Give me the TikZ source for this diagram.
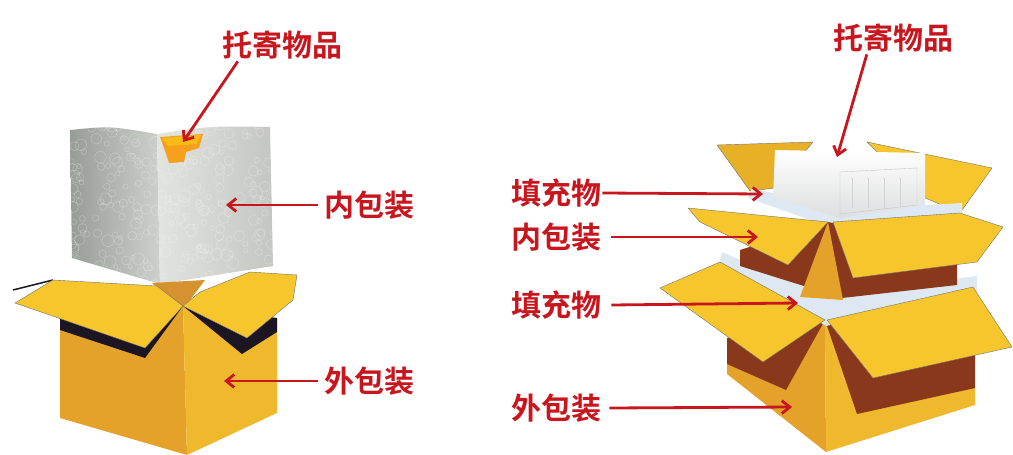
\documentclass[tikz,border=0pt]{standalone}
\usepackage{fontspec}
\newfontfamily\cjk{Noto Sans CJK SC Bold}
\usetikzlibrary{arrows.meta,positioning,calc}

\definecolor{labelred}{RGB}{200,22,30}
\definecolor{flapyellow}{RGB}{246,198,44}
\definecolor{flapshade}{RGB}{232,176,38}
\definecolor{faceleft}{RGB}{228,162,42}
\definecolor{faceright}{RGB}{240,184,44}
\definecolor{cardbrown}{RGB}{138,56,28}
\definecolor{innerdark}{RGB}{28,22,34}
\definecolor{neckbrown}{RGB}{214,146,46}
\definecolor{bubbledark}{RGB}{150,157,150}
\definecolor{bubblelight}{RGB}{226,228,223}
\definecolor{foam}{RGB}{238,239,240}
\definecolor{filler}{RGB}{222,232,242}
\definecolor{itemorange}{RGB}{246,160,30}

\tikzset{
  tag/.style={font=\cjk\fontsize{30}{30}\selectfont, text=labelred, inner sep=0pt},
  pointer/.style={draw=labelred, line width=2.8pt, -{Straight Barb[length=8pt,width=13pt]}},
  card/.style={draw=black!55, line width=0.4pt, line join=round},
}

\begin{document}
\begin{tikzpicture}[x=1pt,y=-1pt]
\useasboundingbox (0,0) rectangle (1013,455);

% ---- left: bubble wrapped item over open carton
\fill[faceleft] (60,316) -- (183,306) -- (187,455) -- (60,418) -- cycle;
\fill[faceright] (183,306) -- (277,318) -- (277,413) -- (187,455) -- cycle;
\fill[innerdark] (60,316) -- (183,306) -- (145,358) -- (60,330) -- cycle;
\fill[innerdark] (183,306) -- (277,318) -- (277,332) -- (242,354) -- cycle;
\draw[innerdark, line width=1.5pt] (13,290) -- (53,280);

% cube
\shade[left color=bubbledark, right color=bubblelight!80!gray] (70,130) .. controls (110,126) .. (157,134) -- (160,284) -- (72,258) -- cycle;
\shade[left color=bubblelight, right color=bubblelight!70!gray] (157,134) .. controls (210,126) .. (270,127) -- (273,266) -- (160,284) -- cycle;
\begin{scope}
  \clip (70,130) .. controls (110,126) .. (157,134) .. controls (210,126) .. (270,127) -- (273,266) -- (160,284) -- (72,258) -- cycle;
  \pgfmathsetseed{11}
  \foreach \i in {1,...,260}{
    \pgfmathsetmacro\bx{70+204*rnd}
    \pgfmathsetmacro\by{125+160*rnd}
    \pgfmathsetmacro\br{2+4*rnd}
    \draw[white, opacity=0.25, line width=0.6pt] (\bx,\by) circle[radius=\br];
  }
\end{scope}
\fill[itemorange] (160,137) -- (203,134) -- (199,148) -- (186,152) -- (184,162) -- (169,163) -- (164,148) -- cycle;
\fill[itemorange!70!yellow] (162,138) -- (201,135) -- (196,144) -- (168,146) -- cycle;

\fill[neckbrown] (152,283) -- (205,280) -- (190,300) -- (183,306) -- (160,290) -- cycle;
\fill[flapyellow, card] (15,303) -- (53,280) -- (157,286) -- (183,306) -- (145,348) -- cycle;
\fill[flapyellow, card] (183,306) -- (200,292) -- (250,272) -- (297,275) -- (293,300) -- (247,338) -- cycle;

% ---- right: carton in carton
\fill[faceleft] (727,338) -- (825,320) -- (826,452) -- (727,374) -- cycle;
\fill[faceright] (825,320) -- (975,300) -- (975,405) -- (826,452) -- cycle;
\fill[cardbrown] (727,338) -- (825,320) -- (786,390) -- (727,364) -- cycle;
\fill[cardbrown] (825,320) -- (975,300) -- (975,388) -- (857,414) -- cycle;
\fill[filler] (722,252) -- (815,292) -- (845,292) -- (977,276) -- (977,292) -- (826,326) -- (720,262) -- cycle;

\fill[flapshade, card] (717,145) -- (813,142) -- (775,188) -- (750,191) -- cycle;
\fill[flapyellow, card] (867,142) -- (992,168) -- (960,213) -- (923,197) -- cycle;
\fill[filler] (752,188) -- (840,210) -- (962,203) -- (962,216) -- (833,228) -- (748,198) -- cycle;
\shade[top color=white, bottom color=foam!85!gray] (775,150) -- (925,153) -- (925,205) -- (840,218) -- (773,197) -- cycle;
\draw[gray!45] (840,172) -- (917,168) -- (917,205) -- (840,214) -- cycle;
\foreach \k in {0,1,2,3}
  \draw[gray!35] (852+16*\k,178) -- (852+16*\k,208);

\fill[cardbrown] (740,250) -- (828,222) -- (957,250) -- (957,285) -- (842,298) -- (740,266) -- cycle;
\fill[faceleft] (828,222) -- (800,297) -- (843,300) -- cycle;
\fill[flapyellow, card] (688,208) -- (828,222) -- (788,265) -- (700,222) -- cycle;
\fill[flapyellow, card] (833,222) -- (960,213) -- (1003,227) -- (977,262) -- (853,278) -- cycle;

\fill[flapyellow, card] (660,288) -- (720,262) -- (825,320) -- (763,362) -- cycle;
\fill[flapyellow, card] (827,320) -- (973,287) -- (1012,347) -- (873,378) -- cycle;

% ---- labels
\node[tag] (itemL) at (282,45) {托寄物品};
\node[tag, anchor=west] (innerL) at (324,205) {内包装};
\node[tag, anchor=west] (outerL) at (324,381) {外包装};
\node[tag] (itemR) at (893,38) {托寄物品};
\node[tag, anchor=west] (fillA) at (511,193) {填充物};
\node[tag, anchor=west] (innerR) at (511,237) {内包装};
\node[tag, anchor=west] (fillB) at (511,305) {填充物};
\node[tag, anchor=west] (outerR) at (511,408) {外包装};

\coordinate (itemLtip) at (183,142);
\coordinate (innerLtip) at (226,205);
\coordinate (outerLtip) at (224,381);
\coordinate (itemRtip) at (837,157);
\coordinate (fillAtip) at (763,194);
\coordinate (innerRtip) at (758,237);
\coordinate (fillBtip) at (798,303);
\coordinate (outerRtip) at (792,407);

\draw[pointer] ([xshift=16pt,yshift=-2pt]itemL.south west) -- (itemLtip);
\draw[pointer] ([xshift=-6pt]innerL.west) -- (innerLtip);
\draw[pointer] ([xshift=-6pt]outerL.west) -- (outerLtip);
\draw[pointer] ([xshift=34pt,yshift=-2pt]itemR.south west) -- (itemRtip);
\draw[pointer] ([xshift=1pt]fillA.east) -- (fillAtip);
\draw[pointer] ([xshift=10pt]innerR.east) -- (innerRtip);
\draw[pointer] ([xshift=10pt]fillB.east) -- (fillBtip);
\draw[pointer] ([xshift=8pt]outerR.east) -- (outerRtip);
\end{tikzpicture}
\end{document}
